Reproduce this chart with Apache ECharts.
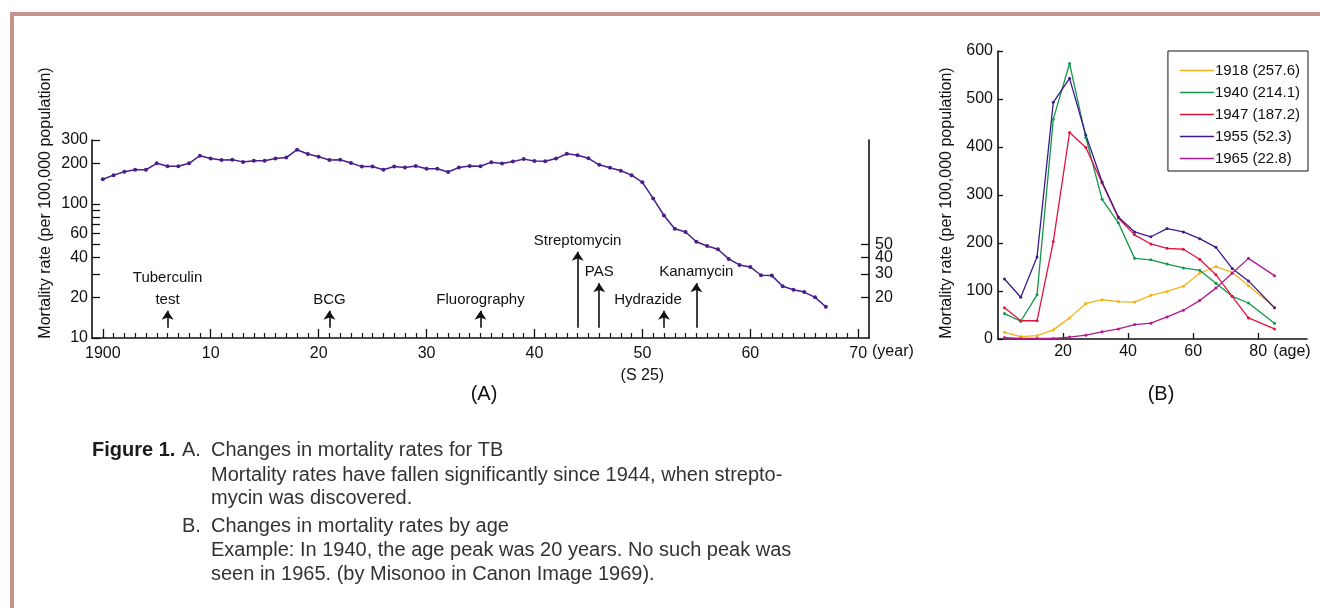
<!DOCTYPE html>
<html>
<head>
<meta charset="utf-8">
<title>TB mortality</title>
<script src="https://cdn.jsdelivr.net/npm/echarts@6/dist/echarts.min.js"></script>
<style>
  * { margin: 0; padding: 0; }
  body { background: #fff; }
  #chart { width: 1320px; height: 608px; }
</style>
</head>
<body>
<div id="chart"></div>
<script>
// (A) mortality per 100,000 by year, log scale
var years = [1900, 1901, 1902, 1903, 1904, 1905, 1906, 1907, 1908, 1909,
  1910, 1911, 1912, 1913, 1914, 1915, 1916, 1917, 1918, 1919,
  1920, 1921, 1922, 1923, 1924, 1925, 1926, 1927, 1928, 1929,
  1930, 1931, 1932, 1933, 1934, 1935, 1936, 1937, 1938, 1939,
  1940, 1941, 1942, 1943, 1944, 1945, 1946, 1947, 1948, 1949,
  1950, 1951, 1952, 1953, 1954, 1955, 1956, 1957, 1958, 1959,
  1960, 1961, 1962, 1963, 1964, 1965, 1966, 1967];
var rates = [153, 164, 174, 180, 180, 201, 191, 191, 201, 229,
  218, 213, 214, 206, 210, 210, 218, 222, 254, 236,
  225, 213, 214, 202, 190, 190, 180, 190, 187, 192,
  183, 183, 173, 187, 192, 191, 205, 200, 207, 216,
  209, 208, 218, 237, 231, 219, 196, 186, 177, 164,
  145, 110, 82, 65.4, 61.8, 52.3, 48.6, 45.9, 38.9, 35.1,
  33.9, 29.4, 29.2, 24.3, 22.9, 22.0, 20.1, 17.1];

// events marked with arrows
var eventNames = ['Tuberculin\ntest', 'BCG', 'Fluorography', 'Streptomycin', 'PAS', 'Hydrazide', 'Kanamycin'];
var eventYears = [1906, 1921, 1935, 1944, 1946, 1952, 1955];
var eventTips = [16, 16, 16, 44, 25.6, 16, 25.6];
var arrowBase = 11.9;

var yearTicks = [1900, 1910, 1920, 1930, 1940, 1950, 1960, 1970];
var minorYearTicks = [1901, 1902, 1903, 1904, 1905, 1906, 1907, 1908, 1909,
  1911, 1912, 1913, 1914, 1915, 1916, 1917, 1918, 1919,
  1921, 1922, 1923, 1924, 1925, 1926, 1927, 1928, 1929,
  1931, 1932, 1933, 1934, 1935, 1936, 1937, 1938, 1939,
  1941, 1942, 1943, 1944, 1945, 1946, 1947, 1948, 1949,
  1951, 1952, 1953, 1954, 1955, 1956, 1957, 1958, 1959,
  1961, 1962, 1963, 1964, 1965, 1966, 1967, 1968, 1969];
var logTicks = [10, 20, 30, 40, 50, 60, 70, 80, 90, 100, 200, 300];
var logLabels = [10, 20, 40, 60, 100, 200, 300];
var rightTicks = [20, 30, 40, 50];
// right-hand labels sit close together, so they are split over two axes
var rightLabelsA = [20, 40];
var rightLabelsB = [30, 50];

// (B) mortality by age
var ages = [2, 7, 12, 17, 22, 27, 32, 37, 42, 47, 52, 57, 62, 67, 72, 77, 85];
var ageTicks = [20, 40, 60, 80];
var r1918 = [14, 5, 7, 19, 44, 74, 82, 78, 77, 91, 99, 110, 137, 151, 139, 111, 66];
var r1940 = [53, 37, 92, 458, 574, 420, 291, 242, 168, 165, 156, 148, 143, 116, 89, 75, 33];
var r1947 = [65, 38, 38, 203, 430, 399, 325, 252, 217, 198, 189, 187, 166, 134, 89, 44, 21];
var r1955 = [125, 87, 171, 493, 543, 425, 327, 254, 223, 213, 230, 223, 209, 191, 147, 121, 65];
var r1965 = [3, 1, 1, 1, 4, 8, 15, 21, 30, 33, 46, 60, 80, 106, 137, 168, 132];
var ageSeries = [
  { name: '1918 (257.6)', values: r1918, color: '#f4b21a' },
  { name: '1940 (214.1)', values: r1940, color: '#14964a' },
  { name: '1947 (187.2)', values: r1947, color: '#e0153d' },
  { name: '1955 (52.3)', values: r1955, color: '#3d1b8b' },
  { name: '1965 (22.8)', values: r1965, color: '#b01a8e' }
];

var sans = "'Liberation Sans', Arial, sans-serif";
var ink = '#111';
var axisLine = { show: true, lineStyle: { color: ink, width: 1.6 } };
var labelStyle = { color: ink, fontSize: 16, fontFamily: sans, showMinLabel: true, showMaxLabel: true };

function pair(xs, ys) {
  return ys.map(function (v, i) { return [xs[i], v]; });
}

var arrows = eventYears.map(function (y, i) {
  return [{ coord: [y, arrowBase] }, { coord: [y, eventTips[i]] }];
});
var eventLabels = eventYears.map(function (y, i) {
  var item = { name: eventNames[i], coord: [y, eventTips[i]] };
  if (eventNames[i] === 'Hydrazide') item.label = { offset: [-16, 0] };
  return item;
});

var chart = echarts.init(document.getElementById('chart'));

var series = [{
  type: 'line',
  xAxisIndex: 0,
  yAxisIndex: 0,
  data: pair(years, rates),
  symbol: 'circle',
  symbolSize: 4,
  color: '#4a1f8c',
  lineStyle: { width: 1.5 },
  markLine: {
    silent: true,
    symbol: ['none', 'arrow'],
    symbolSize: 9,
    label: { show: false },
    lineStyle: { color: ink, width: 1.6, type: 'solid' },
    data: arrows
  },
  markPoint: {
    silent: true,
    symbol: 'circle',
    symbolSize: 0,
    itemStyle: { color: 'transparent' },
    label: {
      show: true,
      position: 'top',
      distance: 0,
      formatter: '{b}',
      color: ink,
      fontSize: 15,
      fontFamily: sans,
      lineHeight: 22
    },
    data: eventLabels
  }
}];

ageSeries.forEach(function (s) {
  series.push({
    type: 'line',
    name: s.name,
    xAxisIndex: 2,
    yAxisIndex: 2,
    data: pair(ages, s.values),
    symbol: 'circle',
    symbolSize: 3,
    color: s.color,
    lineStyle: { width: 1.3 }
  });
});

function text(str, x, y, opts) {
  opts = opts || {};
  return {
    type: 'text',
    x: x,
    y: y,
    rotation: opts.rotation || 0,
    silent: true,
    style: {
      text: str,
      fill: opts.fill || ink,
      fontSize: opts.size || 16,
      fontFamily: sans,
      fontWeight: opts.weight || 'normal',
      align: opts.align || 'left',
      verticalAlign: 'middle'
    }
  };
}

function rightLogAxis(labels, withLine) {
  return {
    gridIndex: 0,
    type: 'log',
    logBase: 10,
    min: 10,
    max: 300,
    position: 'right',
    axisLine: withLine ? axisLine : { show: false },
    splitLine: { show: false },
    axisTick: withLine
      ? { inside: true, length: 8, customValues: rightTicks, lineStyle: { color: ink, width: 1.3 } }
      : { show: false },
    axisLabel: Object.assign({ customValues: labels, margin: 6 }, labelStyle)
  };
}

var cap = { size: 20, fill: '#333' };
var yName = 'Mortality rate (per 100,000 population)';

chart.setOption({
  animation: false,
  backgroundColor: '#fff',
  grid: [
    { left: 92, top: 140, width: 777, height: 198 },
    { left: 998, top: 51, width: 309, height: 288 }
  ],
  xAxis: [{
    gridIndex: 0,
    type: 'value',
    position: 'bottom',
    min: 1899,
    max: 1971,
    axisLine: axisLine,
    splitLine: { show: false },
    axisTick: { inside: true, length: 9, customValues: yearTicks, lineStyle: { color: ink, width: 1.3 } },
    axisLabel: Object.assign({
      customValues: yearTicks,
      margin: 5,
      lineHeight: 22,
      formatter: function (v) {
        if (v === 1900) return '1900';
        if (v === 1950) return '50\n(S 25)';
        return String(v - 1900);
      }
    }, labelStyle),
    name: '(year)',
    nameLocation: 'end',
    nameGap: 3,
    nameTextStyle: { color: ink, fontSize: 16, fontFamily: sans, verticalAlign: 'top', padding: [6, 0, 0, 0] }
  }, {
    gridIndex: 0,
    type: 'value',
    position: 'bottom',
    min: 1899,
    max: 1971,
    axisLine: { show: false },
    splitLine: { show: false },
    axisTick: { inside: true, length: 5, customValues: minorYearTicks, lineStyle: { color: ink, width: 1.2 } },
    axisLabel: { show: false }
  }, {
    gridIndex: 1,
    type: 'value',
    position: 'bottom',
    min: 0,
    max: 95,
    axisLine: axisLine,
    splitLine: { show: false },
    axisTick: { inside: true, length: 6, customValues: ageTicks, lineStyle: { color: ink, width: 1.3 } },
    axisLabel: Object.assign({ customValues: ageTicks, margin: 5 }, labelStyle)
  }],
  yAxis: [{
    gridIndex: 0,
    type: 'log',
    logBase: 10,
    min: 10,
    max: 300,
    position: 'left',
    axisLine: axisLine,
    splitLine: { show: false },
    axisTick: { inside: true, length: 8, customValues: logTicks, lineStyle: { color: ink, width: 1.3 } },
    axisLabel: Object.assign({ customValues: logLabels, margin: 4 }, labelStyle)
  },
  rightLogAxis(rightLabelsA, true),
  {
    gridIndex: 1,
    type: 'value',
    min: 0,
    max: 600,
    interval: 100,
    axisLine: axisLine,
    splitLine: { show: false },
    axisTick: { inside: true, length: 5, lineStyle: { color: ink, width: 1.3 } },
    axisLabel: Object.assign({ margin: 5 }, labelStyle)
  },
  rightLogAxis(rightLabelsB, false)],
  legend: {
    right: 12,
    top: 51,
    orient: 'vertical',
    icon: 'rect',
    itemWidth: 34,
    itemHeight: 1.6,
    itemGap: 7,
    padding: [12, 8, 5, 12],
    borderColor: ink,
    borderWidth: 1,
    borderRadius: 0,
    selectedMode: false,
    textStyle: { color: ink, fontSize: 15, fontFamily: sans, padding: [0, 0, 0, -4] },
    data: ageSeries.map(function (s) { return s.name; })
  },
  graphic: [
    { type: 'rect', silent: true, shape: { x: 10, y: 12, width: 1310, height: 4 }, style: { fill: '#c4948f' } },
    { type: 'rect', silent: true, shape: { x: 10, y: 12, width: 4, height: 596 }, style: { fill: '#c4948f' } },
    text(yName, 46, 203, { rotation: Math.PI / 2, align: 'center' }),
    text(yName, 947, 203, { rotation: Math.PI / 2, align: 'center' }),
    text('(age)', 1292, 352, { align: 'center' }),
    text('(A)', 484, 394, { size: 20, align: 'center' }),
    text('(B)', 1161, 394, { size: 20, align: 'center' }),
    text('Figure 1.', 92, 450, { size: 20, weight: 'bold', fill: '#1a1a1a' }),
    text('A.', 182, 450, cap),
    text('Changes in mortality rates for TB', 211, 450, cap),
    text('Mortality rates have fallen significantly since 1944, when strepto-', 211, 475, cap),
    text('mycin was discovered.', 211, 498, cap),
    text('B.', 182, 526, cap),
    text('Changes in mortality rates by age', 211, 526, cap),
    text('Example: In 1940, the age peak was 20 years. No such peak was', 211, 550, cap),
    text('seen in 1965. (by Misonoo in Canon Image 1969).', 211, 574, cap)
  ],
  series: series
});
</script>
</body>
</html>
